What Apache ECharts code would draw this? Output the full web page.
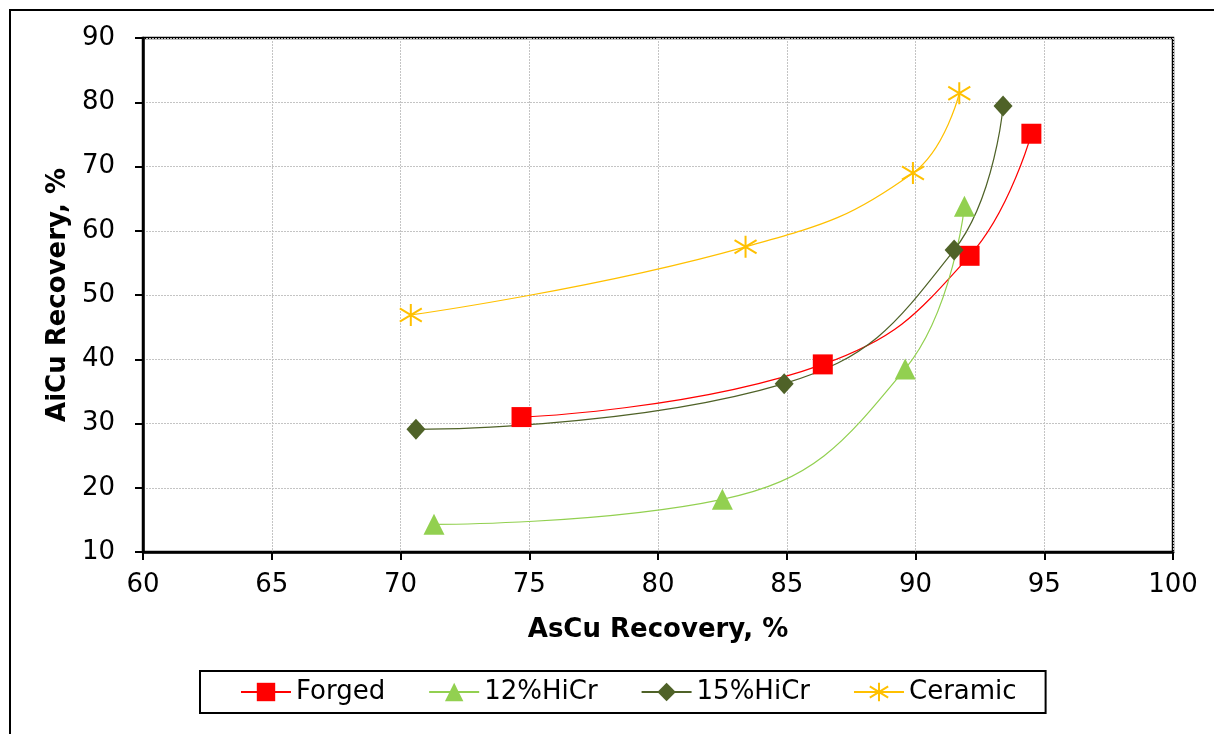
<!DOCTYPE html>
<html>
<head>
<meta charset="utf-8">
<script src="https://cdn.jsdelivr.net/npm/echarts@6/dist/echarts.min.js"></script>
<style>
html,body{margin:0;padding:0;background:#fff;}
#chart{width:1214px;height:734px;}
</style>
</head>
<body>
<div id="chart"></div>
<script>
// Data
const seriesNames = ['Forged', '12%HiCr', '15%HiCr', 'Ceramic'];
const forgedX = [74.7, 86.4, 92.1, 94.5];
const forgedY = [31.0, 39.2, 56.1, 75.1];
const hicr12X = [71.3, 82.5, 89.6, 91.9];
const hicr12Y = [14.3, 18.2, 38.5, 63.8];
const hicr15X = [70.6, 84.9, 91.5, 93.4];
const hicr15Y = [29.1, 36.2, 57.0, 79.4];
const ceramicX = [70.4, 83.4, 89.9, 91.7];
const ceramicY = [46.9, 57.5, 69.0, 81.4];
const xTitle = 'AsCu Recovery, %';
const yTitle = 'AiCu Recovery, %';

function pairs(xs, ys) { return xs.map((x, i) => [x, ys[i]]); }

const FONT = 'DejaVu Sans';
const asterisk = 'path://M10 0L10 20M2 4L18 16M2 16L18 4';

const chart = echarts.init(document.getElementById('chart'), null, {renderer: 'canvas'});

function lineSeries(name, data, color, symbol, size, extra) {
  return Object.assign({
    name: name,
    type: 'line',
    data: data,
    smooth: 0.45,
    symbol: symbol,
    symbolSize: size,
    showAllSymbol: true,
    lineStyle: {color: color, width: 1.2},
    itemStyle: {color: color},
    emphasis: {disabled: true},
    z: 3
  }, extra || {});
}

const option = {
  backgroundColor: '#ffffff',
  animation: false,
  textStyle: {fontFamily: FONT},
  graphic: [{
    type: 'rect',
    shape: {x: 10, y: 10, width: 1400, height: 900},
    style: {fill: 'none', stroke: '#000', lineWidth: 2},
    silent: true,
    z: 0
  }],
  grid: {
    left: 143, right: 41, top: 38, bottom: 182,
    show: true, borderColor: '#000', borderWidth: 2.5, backgroundColor: 'transparent'
  },
  legend: {
    data: seriesNames,
    left: 200, top: 671,
    orient: 'horizontal',
    itemWidth: 50, itemHeight: 23,
    itemGap: 43,
    padding: [8, 29, 8, 40],
    borderColor: '#000', borderWidth: 2,
    textStyle: {fontFamily: FONT, fontSize: 26, color: '#000'}
  },
  xAxis: {
    type: 'value', min: 60, max: 100, interval: 5,
    name: xTitle, nameLocation: 'middle', nameGap: 65,
    nameTextStyle: {fontFamily: FONT, fontSize: 26, fontWeight: 'bold', color: '#000'},
    axisLine: {show: true, onZero: false, lineStyle: {color: '#000', width: 2.5}},
    axisTick: {show: true, length: 8, inside: false, lineStyle: {color: '#000', width: 2}},
    axisLabel: {fontFamily: FONT, fontSize: 26, color: '#000', margin: 20},
    splitLine: {show: true, lineStyle: {color: '#c4c4c4', width: 1, type: [2, 1]}}
  },
  yAxis: {
    type: 'value', min: 10, max: 90, interval: 10,
    name: yTitle, nameLocation: 'middle', nameGap: 61,
    nameTextStyle: {fontFamily: FONT, fontSize: 26, fontWeight: 'bold', color: '#000'},
    axisLine: {show: true, onZero: false, lineStyle: {color: '#000', width: 2.5}},
    axisTick: {show: true, length: 8, inside: false, lineStyle: {color: '#000', width: 2}},
    axisLabel: {fontFamily: FONT, fontSize: 26, color: '#000', margin: 28},
    splitLine: {show: true, lineStyle: {color: '#c4c4c4', width: 1, type: [2, 1]}}
  },
  series: [
    lineSeries('Forged', pairs(forgedX, forgedY), '#FF0000', 'rect', 20),
    lineSeries('12%HiCr', pairs(hicr12X, hicr12Y), '#92D050', 'triangle', 21),
    lineSeries('15%HiCr', pairs(hicr15X, hicr15Y), '#4F6228', 'diamond', [19, 21]),
    lineSeries('Ceramic', pairs(ceramicX, ceramicY), '#FFC000', asterisk, 22, {
      itemStyle: {color: 'rgba(0,0,0,0)', borderColor: '#FFC000', borderWidth: 2}
    })
  ]
};
chart.setOption(option);
</script>
</body>
</html>
